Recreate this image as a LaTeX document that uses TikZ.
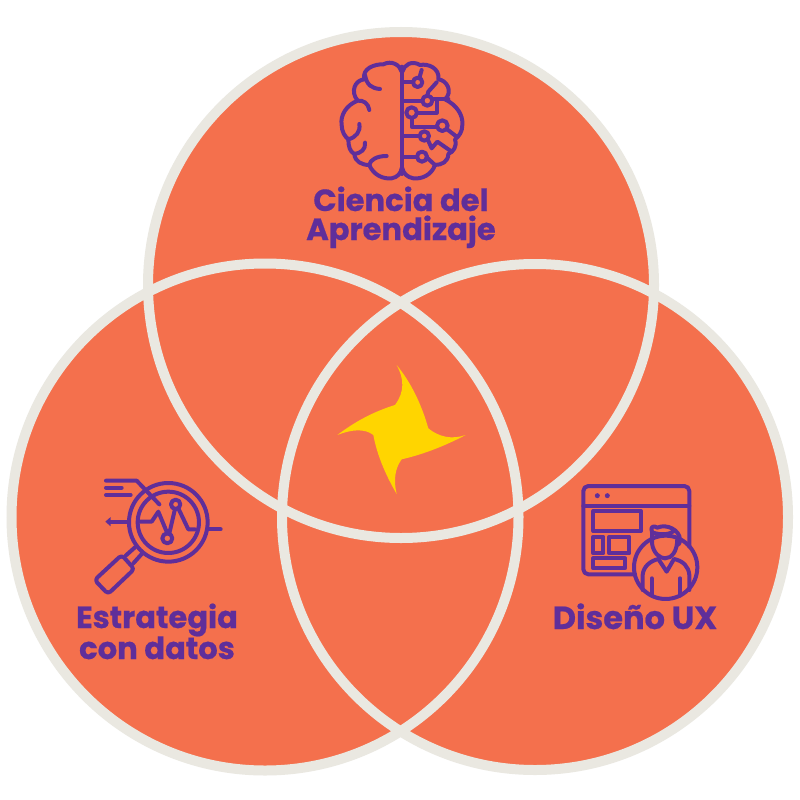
\documentclass[tikz,border=0pt]{standalone}
\usepackage{fontspec}
\setmainfont{Poppins}[BoldFeatures={FakeBold=0.6}]
\definecolor{ring}{HTML}{EAE8E1}
\definecolor{petal}{HTML}{F4704D}
\definecolor{ink}{HTML}{5F2E9A}
\definecolor{spark}{HTML}{FFD500}
\tikzset{
  ringline/.style={draw=ring,line width=10pt},
  petalfill/.style={fill=petal},
  icon/.style={draw=ink,line width=4pt,line cap=round,line join=round},
  label/.style={text=ink,font=\fontsize{30.6}{30.6}\selectfont\bfseries,anchor=base,inner sep=0pt}
}
\begin{document}
\begin{tikzpicture}[x=1pt,y=-1pt]
\useasboundingbox (0,0) rectangle (800,800);
\fill[white] (0,0) rectangle (800,800);
% petals
\fill[petalfill] (401,285) circle[radius=253];
\fill[petalfill] (265,517) circle[radius=253];
\fill[petalfill] (535,517) circle[radius=253];
\draw[ringline] (401,285) circle[radius=253];
\draw[ringline] (265,517) circle[radius=253.5];
\draw[ringline] (535,517) circle[radius=253];
% spark
\begin{scope}[shift={(320,350)},x=0.3333pt,y=-0.3333pt]
\fill[spark] (230,45) .. controls (252,85) and (255,125) .. (225,165)
  .. controls (160,185) and (105,215) .. (52,255)
  .. controls (95,238) and (135,235) .. (160,255)
  .. controls (172,320) and (200,380) .. (230,432)
  .. controls (220,390) and (225,355) .. (245,328)
  .. controls (315,312) and (380,285) .. (437,255)
  .. controls (395,270) and (355,260) .. (325,235)
  .. controls (305,165) and (275,100) .. (230,45) -- cycle;
\end{scope}
% brain
\begin{scope}[shift={(320,50)},x=0.3333pt,y=-0.3333pt]
\draw[icon] (245,50) -- (245,372);
\draw[icon] (245,65) .. controls (240,45) and (215,30) .. (190,43)
  .. controls (165,42) and (125,55) .. (133,88)
  .. controls (105,90) and (90,125) .. (113,152)
  .. controls (80,165) and (60,195) .. (65,225)
  .. controls (65,245) and (75,260) .. (85,268)
  .. controls (85,290) and (90,305) .. (103,312)
  .. controls (105,335) and (125,345) .. (148,345)
  .. controls (160,375) and (190,388) .. (215,385)
  .. controls (232,382) and (243,370) .. (245,355);
\draw[icon] (135,75) .. controls (140,105) and (155,115) .. (180,117);
\draw[icon] (113,152) .. controls (130,150) and (145,160) .. (148,180);
\draw[icon] (118,222) .. controls (122,245) and (108,262) .. (85,268);
\draw[icon] (135,278) .. controls (138,298) and (122,310) .. (103,312);
\draw[icon] (148,345) .. controls (150,330) and (170,318) .. (200,318);
\draw[icon] (247,65) .. controls (252,45) and (275,30) .. (300,45)
  .. controls (325,40) and (360,55) .. (355,88)
  .. controls (380,90) and (400,125) .. (375,148)
  .. controls (410,165) and (430,195) .. (427,225)
  .. controls (427,245) and (418,258) .. (405,268)
  .. controls (412,290) and (400,305) .. (385,312)
  .. controls (385,335) and (365,345) .. (345,345)
  .. controls (335,375) and (305,388) .. (280,385)
  .. controls (262,382) and (250,370) .. (247,355);
\draw[icon] (250,97) -- (280,97);
\draw[icon] (293,97) circle[radius=14];
\draw[icon] (298,84) -- (305,60);
\draw[icon] (250,152) -- (308,152);
\draw[icon] (322,152) circle[radius=15];
\draw[icon] (322,137) -- (325,125) -- (350,97);
\draw[icon] (338,147) -- (385,147);
\draw[icon] (275,188) circle[radius=16];
\draw[icon] (291,188) -- (350,188) -- (350,150);
\draw[icon] (275,204) -- (275,230) -- (351,230);
\draw[icon] (367,227) circle[radius=16];
\draw[icon] (380,237) -- (410,260);
\draw[icon] (250,258) -- (298,258);
\draw[icon] (313,258) circle[radius=14];
\draw[icon] (323,268) -- (335,295) -- (352,275) -- (395,305);
\draw[icon] (250,320) -- (292,320);
\draw[icon] (306,320) circle[radius=15];
\draw[icon] (320,322) -- (345,345);
\end{scope}
% magnifier
\begin{scope}[shift={(80,465)},x=0.3333pt,y=-0.3333pt]
\draw[icon] (265,172) circle[radius=118];
\draw[icon] (265,172) circle[radius=92];
\draw[icon] (78,47) -- (170,47) -- (238,118);
\draw[icon] (78,68) -- (125,68);
\draw[icon] (78,90) -- (152,90);
\draw[icon] (90,170) -- (145,170);
\fill[ink] (76,170) -- (92,156) -- (92,184) -- cycle;
\draw[icon] (385,193) -- (422,193);
\draw[icon] (175,170) -- (215,170) -- (235,140) -- (262,205);
\draw[icon] (262,220) circle[radius=15];
\draw[icon] (268,205) -- (285,132);
\draw[icon] (287,118) circle[radius=14];
\draw[icon] (295,130) -- (325,193) -- (345,193);
\draw[icon] (165,247) -- (137,272);
\draw[icon] (187,265) -- (160,295);
\draw[icon,rounded corners=3.5pt] (125,270) -- (163,312) -- (84,387) -- (44,345) -- cycle;
\end{scope}
% UX icon
\begin{scope}[shift={(570,475)},x=0.3333pt,y=-0.3333pt]
\draw[icon,rounded corners=5pt] (195,298) -- (40,298) -- (40,33) -- (358,33) -- (358,215);
\draw[icon] (40,92) -- (358,92);
\fill[ink] (82,62) circle[radius=7.5];
\fill[ink] (112,62) circle[radius=7.5];
\draw[icon] (70,108) rectangle (213,168);
\draw[icon] (70,185) rectangle (100,235);
\draw[icon] (118,185) rectangle (178,235);
\draw[icon] (70,250) rectangle (165,280);
\draw[icon] (287,277) circle[radius=95];
\draw[icon] (246,172) .. controls (240,155) and (250,150) .. (262,158)
  .. controls (290,145) and (330,165) .. (330,195)
  .. controls (330,205) and (325,210) .. (322,210);
\draw[icon] (246,172) -- (246,205) .. controls (250,235) and (270,250) .. (285,250)
  .. controls (305,250) and (322,230) .. (322,190);
\draw[icon] (246,172) .. controls (275,182) and (300,178) .. (312,168);
\draw[icon] (218,345) -- (218,300) .. controls (220,275) and (240,258) .. (265,252)
  -- (290,290) -- (312,252) .. controls (340,258) and (356,275) .. (358,300) -- (358,345);
\draw[icon] (245,310) -- (245,362);
\draw[icon] (330,310) -- (330,362);
\end{scope}
% labels
\node[label] (t1) at (401,211) {Ciencia del};
\node[label] (t2) at (401,240) {Aprendizaje};
\node[label] (t3) at (157,628) {Estrategia};
\node[label] (t4) at (157,659) {con datos};
\node[label,font=\fontsize{32}{32}\selectfont\bfseries] (t5) at (635,629) {Diseño UX};
\end{tikzpicture}
\end{document}
